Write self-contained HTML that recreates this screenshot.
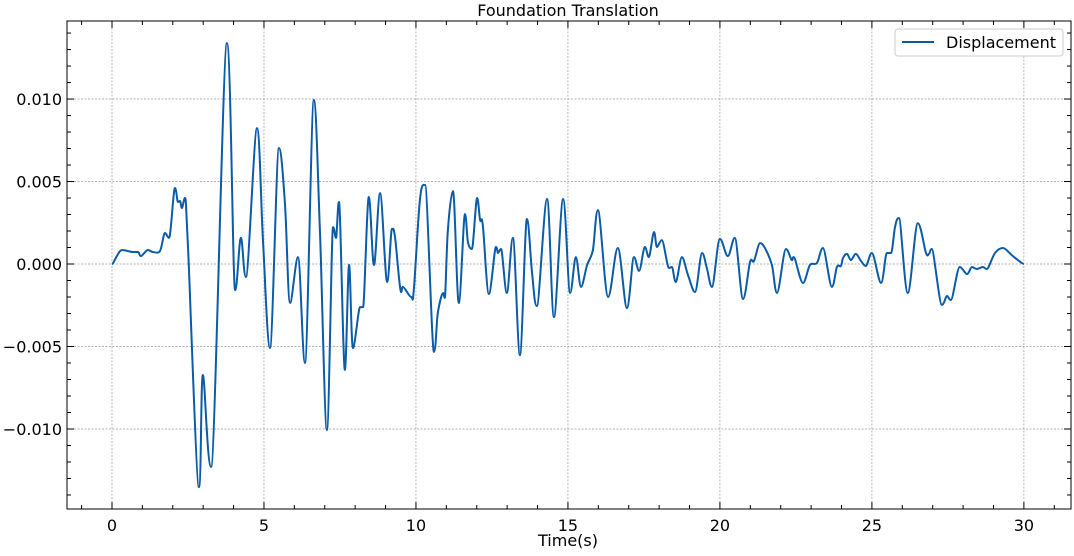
<!DOCTYPE html>
<html><head><meta charset="utf-8"><style>
html,body{margin:0;padding:0;background:#fff;}
svg text{font-family:"DejaVu Sans","Liberation Sans",sans-serif;fill:#000;}
</style></head><body>
<svg id="chart" width="1074" height="551" viewBox="0 0 1074 551" xmlns="http://www.w3.org/2000/svg">
<g id="grid"></g>
<path id="line" fill="none" stroke="#0a5ba8" stroke-width="2"/>
<rect x="67" y="21" width="1004" height="488" fill="none" stroke="#000" stroke-width="1"/>
<g id="ticks"></g>
<text x="568" y="16" font-size="16" text-anchor="middle">Foundation Translation</text>
<text x="568" y="546" font-size="16" text-anchor="middle">Time(s)</text>
<g>
<rect x="895" y="29" width="168" height="27" rx="3" fill="#fff" stroke="#ccc"/>
<line x1="902" y1="42" x2="934" y2="42" stroke="#0a5ba8" stroke-width="2"/>
<text x="946" y="48" font-size="16">Displacement</text>
</g>
</svg>
<script>
const times=[0,0.33,0.69,0.86,0.95,1.18,1.35,1.58,1.74,1.88,2.07,2.17,2.24,2.30,2.40,2.50,2.86,2.99,3.26,3.78,4.05,4.24,4.41,4.77,4.97,5.20,5.49,5.69,5.86,6.12,6.35,6.64,6.84,7.07,7.27,7.37,7.47,7.66,7.80,7.93,8.16,8.26,8.45,8.62,8.82,9.05,9.21,9.31,9.51,9.57,9.84,9.93,10.13,10.30,10.59,10.72,10.89,10.95,11.05,11.22,11.41,11.61,11.71,11.84,12.01,12.11,12.20,12.40,12.63,12.70,12.80,12.99,13.19,13.42,13.65,13.82,13.98,14.31,14.54,14.84,15.07,15.26,15.43,15.63,15.82,15.99,16.32,16.64,16.94,17.17,17.34,17.53,17.66,17.83,17.93,18.09,18.32,18.42,18.55,18.75,18.95,19.18,19.41,19.57,19.74,20.00,20.26,20.49,20.76,20.99,21.12,21.32,21.48,21.71,21.88,22.17,22.37,22.43,22.73,22.96,23.19,23.39,23.68,23.85,23.98,24.05,24.18,24.31,24.47,24.64,24.80,25.00,25.30,25.49,25.63,25.76,25.89,26.18,26.51,26.78,26.88,26.97,27.30,27.47,27.60,27.89,28.13,28.29,28.45,28.65,28.78,29.05,29.31,29.64,30.0];
const dispMilli=[0,0.85,0.73,0.73,0.48,0.85,0.73,0.79,1.88,1.58,4.61,3.76,3.82,3.39,4.00,1.03,-13.52,-6.73,-12.30,13.39,-1.58,1.58,-0.79,8.24,1.27,-5.09,7.03,3.70,-2.36,0.42,-6.00,9.94,2.06,-10.06,2.24,1.58,3.76,-6.42,-0.06,-5.09,-2.61,-2.61,4.06,-0.06,4.30,-1.09,2.12,1.64,-1.70,-1.39,-2.00,-1.58,3.88,4.79,-5.33,-2.97,-1.76,-2.06,2.06,4.42,-2.36,3.03,1.33,0.91,4.00,2.67,2.36,-1.82,1.03,0.67,0.91,-1.76,1.58,-5.52,2.73,-0.55,-2.55,3.94,-3.21,3.94,-1.76,0.42,-1.39,-0.06,0.85,3.27,-2.00,0.97,-2.67,0.42,-0.42,1.03,0.42,1.94,1.03,1.45,-0.24,-0.18,-1.09,0.42,-0.67,-1.70,0.67,-0.24,-1.39,1.52,0.48,1.58,-2.12,0.12,0.18,1.27,0.97,-0.06,-1.76,0.91,0.24,0.42,-1.15,-0.06,0.06,0.97,-1.39,-0.18,-0.12,0.36,0.61,0.24,0.61,0.18,-0.12,0.67,-1.15,0.67,0.67,2.24,2.79,-1.76,2.48,0.67,0.61,0.91,-2.48,-1.94,-2.18,-0.18,-0.61,-0.18,-0.30,-0.18,-0.30,0.67,0.97,0.48,0];
const xTicks=[0,5,10,15,20,25,30];
const yTicks=[-10,-5,0,5,10];
const yTickLabels=["\u22120.010","\u22120.005","0.000","0.005","0.010"];

const L=67,R=1071,T=21,B=509;
const xMin=-1.48,xMax=31.55,yMin=-14.85,yMax=14.73;
const xs=t=>L+(t-xMin)/(xMax-xMin)*(R-L);
const ys=v=>B-(v-yMin)/(yMax-yMin)*(B-T);
const NS="http://www.w3.org/2000/svg";
function mk(tag,attrs,parent){const e=document.createElementNS(NS,tag);for(const k in attrs)e.setAttribute(k,attrs[k]);parent.appendChild(e);return e;}
const grid=document.getElementById('grid'),ticks=document.getElementById('ticks');

xTicks.forEach(t=>{const x=xs(t);
 const g=mk('line',{x1:x,x2:x,y1:T,y2:B,stroke:'#999','stroke-width':0.7,'stroke-dasharray':'2,1.5'},grid);
 
 
 mk('line',{x1:x,x2:x,y1:B,y2:B-7,stroke:'#000'},ticks);
 mk('line',{x1:x,x2:x,y1:T,y2:T+7,stroke:'#000'},ticks);
 const lb=mk('text',{x:x,y:B+22,'font-size':16,'text-anchor':'middle'},ticks);
 lb.textContent=String(t);
 
 
});
for(let t=-1;t<=31;t++){if(t%5===0)continue;const x=xs(t);
 mk('line',{x1:x,x2:x,y1:B,y2:B-4,stroke:'#000'},ticks);
 mk('line',{x1:x,x2:x,y1:T,y2:T+4,stroke:'#000'},ticks);}
yTicks.forEach((v,i)=>{const y=ys(v);
 const g=mk('line',{x1:L,x2:R,y1:y,y2:y,stroke:'#999','stroke-width':0.7,'stroke-dasharray':'2,1.5'},grid);
 
 
 mk('line',{x1:L,x2:L+7,y1:y,y2:y,stroke:'#000'},ticks);
 mk('line',{x1:R,x2:R-7,y1:y,y2:y,stroke:'#000'},ticks);
 const lb=mk('text',{x:L-5,y:y+6,'font-size':16,'text-anchor':'end'},ticks);
 lb.textContent=yTickLabels[i];
 
 
});
for(let v=-14;v<=14;v++){if(v%5===0)continue;const y=ys(v);
 mk('line',{x1:L,x2:L+4,y1:y,y2:y,stroke:'#000'},ticks);
 mk('line',{x1:R,x2:R-4,y1:y,y2:y,stroke:'#000'},ticks);}

const P=times.map((t,i)=>[xs(t),ys(dispMilli[i])]);
let d='M'+P[0][0].toFixed(1)+','+P[0][1].toFixed(1);
for(let i=0;i<P.length-1;i++){
 const p0=P[Math.max(0,i-1)],p1=P[i],p2=P[i+1],p3=P[Math.min(P.length-1,i+2)];
 const k=1/6;
 let c1x=p1[0]+(p2[0]-p0[0])*k,c1y=p1[1]+(p2[1]-p0[1])*k;
 let c2x=p2[0]-(p3[0]-p1[0])*k,c2y=p2[1]-(p3[1]-p1[1])*k;
 if((p1[1]-p0[1])*(p2[1]-p1[1])<=0)c1y=p1[1];
 if((p2[1]-p1[1])*(p3[1]-p2[1])<=0)c2y=p2[1];
 d+=' C'+c1x.toFixed(1)+','+c1y.toFixed(1)+' '+c2x.toFixed(1)+','+c2y.toFixed(1)+' '+p2[0].toFixed(1)+','+p2[1].toFixed(1);
}
document.getElementById('line').setAttribute('d',d);
</script>
</body></html>
